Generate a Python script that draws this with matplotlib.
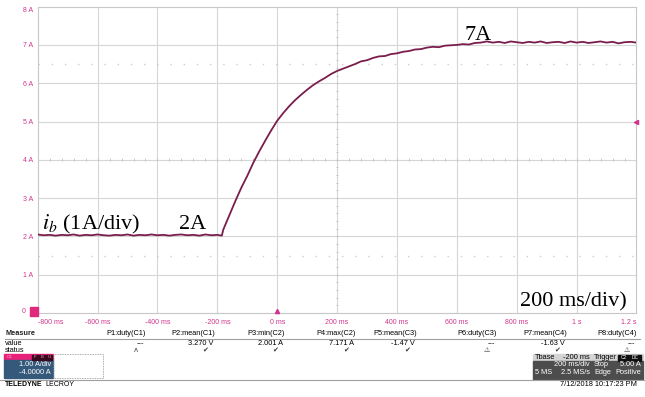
import numpy as np
from matplotlib import pyplot as plt
from matplotlib.patches import Rectangle

# ---- data (time in ms, current in A) ----
flat_t = np.arange(-800, -199, 20)
flat_i = [2.05, 2.03, 2.04, 2.02, 2.04, 2.03, 2.05, 2.02, 2.04, 2.03, 2.05,
          2.03, 2.02, 2.04, 2.03, 2.05, 2.02, 2.04, 2.03, 2.05, 2.03, 2.04,
          2.02, 2.04, 2.05, 2.03, 2.04, 2.02, 2.05, 2.03, 2.04]
step_t = [-185]
step_i = [2.02]
rise_t = np.arange(-180, 701, 20)
rise_i = [2.18, 2.55, 2.92, 3.27, 3.58, 3.92, 4.22, 4.50, 4.77, 5.02,
          5.22, 5.40, 5.56, 5.70, 5.83, 5.95, 6.05, 6.14, 6.24, 6.32,
          6.38, 6.44, 6.50, 6.57, 6.60, 6.66, 6.70, 6.71, 6.76, 6.78,
          6.82, 6.84, 6.88, 6.89, 6.93, 6.95, 6.94, 6.98, 6.99, 7.00,
          7.02, 7.01, 7.05, 7.06, 7.09]
hold_t = np.arange(720, 1201, 20)
hold_i = [7.06, 7.08, 7.05, 7.09, 7.07, 7.05, 7.08, 7.06, 7.09, 7.05,
          7.07, 7.08, 7.05, 7.09, 7.06, 7.08, 7.05, 7.07, 7.09, 7.06,
          7.08, 7.04, 7.07, 7.08, 7.06]

x_ticks = [-800, -600, -400, -200, 0, 200, 400, 600, 800, 1000, 1200]
x_labels = ["-800 ms", "-600 ms", "-400 ms", "-200 ms", "0 ms", "200 ms",
            "400 ms", "600 ms", "800 ms", "1 s", "1.2 s"]
y_ticks = [1, 2, 3, 4, 5, 6, 7, 8]
y_labels = ["1 A", "2 A", "3 A", "4 A", "5 A", "6 A", "7 A", "8 A"]

meas_names = ["P1:duty(C1)", "P2:mean(C1)", "P3:min(C2)", "P4:max(C2)",
              "P5:mean(C3)", "P6:duty(C3)", "P7:mean(C4)", "P8:duty(C4)"]
meas_values = ["---", "3.270 V", "2.001 A", "7.171 A", "-1.47 V", "---",
               "-1.63 V", "---"]
meas_status = ["\u028c", "\u2714", "\u2714", "\u2714", "\u2714", "\u26a0",
               "\u2714", "\u26a0"]
meas_right = [146, 215, 285, 356, 417, 497, 567, 637]

W, H = 645, 397
TRACE = "#7a1d4c"
PINK = "#d0358e"
GRID = "#d6d6d6"


def px(x, y):
    return x / W, 1 - y / H


plt.rcParams["font.family"] = ["Liberation Sans", "DejaVu Sans"]
plt.rcParams["mathtext.fontset"] = "stix"

fig = plt.figure(figsize=(W / 100, H / 100), dpi=100)
fig.patch.set_facecolor("white")

left, right, top, bottom = 37.7, 636.5, 6.6, 313.0
ax = fig.add_axes([left / W, 1 - bottom / H, (right - left) / W, (bottom - top) / H])
ax.set_xlim(-800, 1200)
ax.set_ylim(0, 8)

# grid + center crosshair ticks
for x in x_ticks[1:-1]:
    ax.axvline(x, color=GRID, lw=0.8, zorder=1)
for y in y_ticks[:-1]:
    ax.axhline(y, color=GRID, lw=0.8, zorder=1)
for y in [1.5, 6.5]:
    ax.axhline(y, color="#cccccc", lw=1.0, ls=(0, (1, 8.5)), zorder=1)
ax.vlines(np.arange(-800, 1201, 40), 3.96, 4.04, color="#c0c0c0", lw=0.6, zorder=1)
ax.hlines(np.arange(0, 8.01, 0.2), 196, 204, color="#c0c0c0", lw=0.6, zorder=1)
for s in ax.spines.values():
    s.set_color("#c8c8c8")
    s.set_linewidth(0.8)

# trace
t = np.concatenate([flat_t, step_t, rise_t, hold_t])
i_b = np.concatenate([flat_i, step_i, rise_i, hold_i])
ax.plot(t, i_b, color=TRACE, lw=1.3, zorder=3)

# ticks
ax.set_xticks(x_ticks)
ax.set_xticklabels(x_labels)
ax.set_yticks(y_ticks)
ax.set_yticklabels(y_labels)
ax.tick_params(length=0, labelsize=5, labelcolor=PINK, pad=3)
ax.tick_params(axis="x", pad=4)
xl = ax.get_xticklabels()
xl[0].set_ha("left")
xl[-1].set_ha("right")
ax.get_yticklabels()[-1].set_va("top")

# scope markers
ax.plot([1200], [5], marker="<", color=PINK, ms=3, clip_on=False, zorder=4)
ax.plot([0], [0.04], marker="^", color=PINK, ms=3, clip_on=False, zorder=4)
fig.patches.append(Rectangle(px(29.5, 316), 8 / W, 9 / H, color="#e0287f",
                             transform=fig.transFigure))
fig.text(*px(26, 311.5), "0", fontsize=5, color=PINK, ha="right", va="center")

# annotations
serif = "Liberation Serif"
fig.text(*px(42, 229), r"$i_b$ (1A/div)", fontsize=16, family=serif,
         va="baseline", math_fontfamily="stix")
fig.text(*px(179, 229), "2A", fontsize=16, family=serif, va="baseline")
fig.text(*px(465, 40), "7A", fontsize=16, family=serif, va="baseline")
fig.text(*px(520, 306), "200 ms/div)", fontsize=16, family=serif, va="baseline")

# measure table
fig.text(*px(5, 333.5), "Measure", fontsize=5.3, va="center", weight="bold",
         color="#222222")
fig.text(*px(5, 343.5), "value", fontsize=5.3, va="center")
fig.text(*px(5, 350), "status", fontsize=5.3, va="center")
fig.lines.append(plt.Line2D([5 / W, 640 / W], [1 - 338.5 / H] * 2,
                            color="#a0a0a0", lw=0.8, transform=fig.transFigure))
for name, val, st, xr in zip(meas_names, meas_values, meas_status, meas_right):
    fig.text(*px(xr, 333.5), name, fontsize=5.3, ha="right", va="center")
    fig.text(*px(xr - 2, 343.5), val, fontsize=5.3, ha="right", va="center")
    fig.text(*px(xr - 10, 350), st, fontsize=5, ha="center", va="center",
             family="DejaVu Sans", color="#333333")

# channel box
fig.patches.append(Rectangle(px(4, 360), 49 / W, 6.5 / H, color="#e8207a",
                             transform=fig.transFigure))
fig.patches.append(Rectangle(px(4, 378), 49 / W, 18 / H, color="#35597a",
                             transform=fig.transFigure))
fig.patches.append(Rectangle(px(53, 378), 50 / W, 24.5 / H, fill=False,
                             ec="#909090", ls=(0, (1, 1)), lw=0.6,
                             transform=fig.transFigure))
for k, ch in enumerate(["F", "B", "U"]):
    fig.patches.append(Rectangle(px(32 + 7 * k, 359.5), 6 / W, 5 / H,
                                 color="#3a0a1e", transform=fig.transFigure))
    fig.text(*px(35 + 7 * k, 357), ch, fontsize=3.2, color="#e8a0c0",
             ha="center", va="center")
fig.text(*px(7, 356.8), "C2", fontsize=3.2, color="#ffc0dd", va="center")
fig.text(*px(51, 365), "1.00 A/div", fontsize=5.3, color="white", ha="right", va="center")
fig.text(*px(51, 373), "-4.0000 A", fontsize=5.3, color="white", ha="right", va="center")

# timebase / trigger boxes
fig.patches.append(Rectangle(px(533, 361), 58 / W, 7 / H, color="#d4d4d4",
                             transform=fig.transFigure))
fig.patches.append(Rectangle(px(533, 379), 58 / W, 18 / H, color="#4d4d4d",
                             transform=fig.transFigure))
fig.patches.append(Rectangle(px(592, 361), 51 / W, 7 / H, color="#d4d4d4",
                             transform=fig.transFigure))
fig.patches.append(Rectangle(px(592, 379), 51 / W, 18 / H, color="#4d4d4d",
                             transform=fig.transFigure))
fig.text(*px(535, 357.5), "Tbase", fontsize=5.3, va="center")
fig.text(*px(590, 357.5), "-200 ms", fontsize=5.3, ha="right", va="center")
fig.text(*px(590, 365), "200 ms/div", fontsize=5.3, ha="right", va="center", color="white")
fig.text(*px(535, 373), "5 MS", fontsize=5.3, va="center", color="white")
fig.text(*px(590, 373), "2.5 MS/s", fontsize=5.3, ha="right", va="center", color="white")
fig.text(*px(594, 357.5), "Trigger", fontsize=5.3, va="center")
for k, lab in enumerate(["C2", "DC"]):
    fig.patches.append(Rectangle(px(618 + 12 * k, 360.5), 11 / W, 6 / H,
                                 color="#111111", transform=fig.transFigure))
    fig.text(*px(623.5 + 12 * k, 357.5), lab, fontsize=3.5, color="white",
             ha="center", va="center")
fig.text(*px(594, 365), "Stop", fontsize=5.3, va="center", color="white")
fig.text(*px(641, 365), "5.00 A", fontsize=5.3, ha="right", va="center", color="white")
fig.text(*px(594, 373), "Edge", fontsize=5.3, va="center", color="white")
fig.text(*px(641, 373), "Positive", fontsize=5.3, ha="right", va="center", color="white")

# footer
fig.lines.append(plt.Line2D([0, 1], [1 - 379.5 / H] * 2, color="#a0a0a0",
                            lw=0.8, transform=fig.transFigure))
brand = fig.text(*px(5, 385), "TELEDYNE", fontsize=5, weight="bold", va="center")
fig.canvas.draw()
bb = brand.get_window_extent()
fig.text(bb.x1 / W + 2.5 / W, 1 - 385 / H, "LECROY", fontsize=5, va="center")
fig.text(*px(637, 385), "7/12/2018 10:17:23 PM", fontsize=5.3, ha="right", va="center")

fig.savefig("out.png", dpi=100)
